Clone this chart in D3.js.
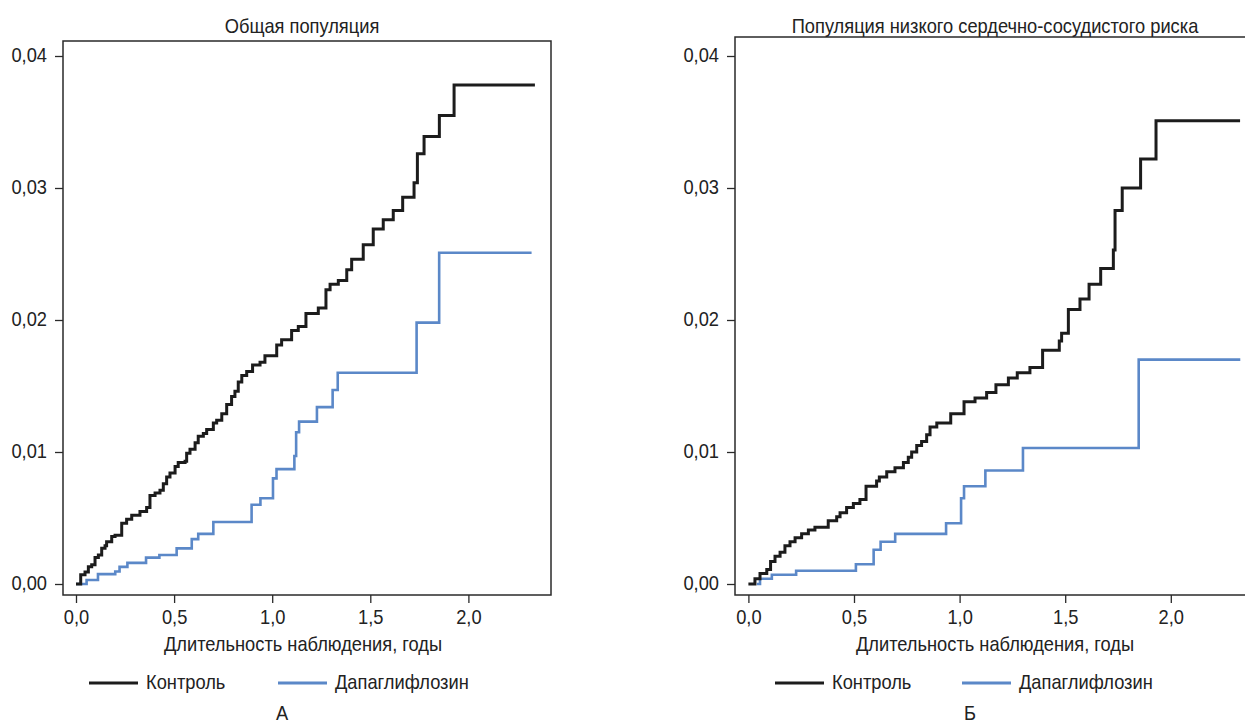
<!DOCTYPE html>
<html>
<head>
<meta charset="utf-8">
<script src="https://cdn.jsdelivr.net/npm/d3@7"></script>
<style>
  body { margin: 0; background: #fff; }
  svg text { font-family: "Liberation Sans", Arial, sans-serif; fill: #222; }
</style>
</head>
<body>
<svg id="chart" width="1245" height="726"></svg>
<script>
// cumulative incidence, [years, value] after each step
const leftControl = [[0,0],[0.024,0.0007],[0.046,0.0009],[0.063,0.0013],[0.080,0.00145],[0.097,0.002],[0.114,0.0022],[0.131,0.0027],[0.148,0.0029],[0.156,0.0032],[0.182,0.0036],[0.199,0.0037],[0.233,0.0046],[0.258,0.0049],[0.284,0.0052],[0.326,0.0055],[0.36,0.0058],[0.377,0.0067],[0.403,0.0069],[0.428,0.0071],[0.445,0.0076],[0.462,0.0081],[0.479,0.0084],[0.505,0.0089],[0.521,0.0092],[0.556,0.0093],[0.564,0.0099],[0.581,0.0102],[0.607,0.0107],[0.623,0.0112],[0.649,0.0114],[0.666,0.0117],[0.7,0.0122],[0.717,0.0124],[0.743,0.0129],[0.768,0.0136],[0.793,0.0142],[0.81,0.0146],[0.827,0.0153],[0.845,0.0158],[0.87,0.0161],[0.9,0.0166],[0.938,0.0168],[0.963,0.0173],[1.023,0.0181],[1.048,0.0185],[1.099,0.0192],[1.133,0.0195],[1.172,0.0205],[1.235,0.0209],[1.274,0.0223],[1.295,0.0227],[1.337,0.023],[1.38,0.0238],[1.405,0.0246],[1.464,0.0257],[1.515,0.0269],[1.566,0.0276],[1.617,0.0283],[1.665,0.0293],[1.723,0.0304],[1.74,0.0326],[1.774,0.0339],[1.852,0.0355],[1.927,0.0378],[2.339,0.0378]];
const leftDapa = [[0,0],[0.054,0.0003],[0.112,0.00075],[0.2,0.00095],[0.222,0.0013],[0.262,0.0016],[0.357,0.002],[0.425,0.0022],[0.513,0.0027],[0.59,0.0034],[0.623,0.0038],[0.70,0.0047],[0.895,0.006],[0.94,0.0065],[1.004,0.008],[1.022,0.0087],[1.113,0.0097],[1.122,0.0115],[1.137,0.0123],[1.228,0.0134],[1.308,0.0147],[1.334,0.016],[1.736,0.0198],[1.851,0.0251],[2.322,0.0251]];
const rightControl = [[0,0],[0.031,0.0004],[0.055,0.0008],[0.087,0.0011],[0.105,0.0017],[0.126,0.0021],[0.15,0.0024],[0.173,0.0029],[0.197,0.0032],[0.221,0.0035],[0.252,0.0038],[0.284,0.0041],[0.315,0.0043],[0.378,0.0048],[0.418,0.0051],[0.434,0.0054],[0.465,0.0058],[0.497,0.0061],[0.528,0.0064],[0.557,0.0074],[0.607,0.0078],[0.62,0.0081],[0.655,0.0085],[0.694,0.0088],[0.734,0.0092],[0.757,0.0096],[0.773,0.01],[0.797,0.0105],[0.82,0.0108],[0.844,0.0113],[0.86,0.0119],[0.892,0.0122],[0.958,0.0129],[1.021,0.0138],[1.073,0.0141],[1.128,0.0145],[1.172,0.0151],[1.231,0.0156],[1.273,0.016],[1.333,0.0164],[1.393,0.0177],[1.472,0.0184],[1.483,0.019],[1.515,0.0208],[1.57,0.0216],[1.613,0.0227],[1.668,0.0239],[1.728,0.0253],[1.736,0.0283],[1.77,0.03],[1.857,0.0322],[1.93,0.0351],[2.328,0.0351]];
const rightDapa = [[0.04,0],[0.055,0.0004],[0.111,0.0007],[0.226,0.001],[0.509,0.0015],[0.593,0.0026],[0.626,0.0032],[0.695,0.0038],[0.936,0.0046],[1.007,0.0065],[1.021,0.0074],[1.122,0.0086],[1.3,0.0103],[1.848,0.017],[2.329,0.017]];

const xTicks = [0, 0.5, 1.0, 1.5, 2.0];
const yTicks = [0, 0.01, 0.02, 0.03, 0.04];
const seriesNames = ["Контроль", "Дапаглифлозин"];
const seriesColors = ["#1c1c1c", "#5b88c8"];
const panelTitles = ["Общая популяция", "Популяция низкого сердечно-сосудистого риска"];
const panelLetters = ["А", "Б"];
const xTitle = "Длительность наблюдения, годы";

const ru = d3.formatLocale({decimal: ",", thousands: " ", grouping: [3], currency: ["", ""]});
const fmtX = ru.format(".1f"), fmtY = ru.format(".2f");

// the original uses a condensed sans; squeeze Liberation Sans horizontally
const SQ = 0.87;
const FS = 21;

const svg = d3.select("#chart");

function label(g, x, y, txt, anchor, baseline) {
  return g.append("text")
    .attr("transform", `translate(${x},${y}) scale(${SQ},1)`)
    .attr("text-anchor", anchor || "start")
    .attr("dominant-baseline", baseline || "middle")
    .style("font-size", FS + "px")
    .text(txt);
}

// layout of the two panels (px)
const panels = [
  {left: 63, right: 551, top: 41, x0: 76, x2: 468.4, title: panelTitles[0], letter: panelLetters[0],
   titleX: 302, axisTitleX: 303, letterX: 282, series: [leftControl, leftDapa], legendX: [89, 278]},
  {left: 735, right: 1262, top: 37, x0: 748.4, x2: 1170.8, title: panelTitles[1], letter: panelLetters[1],
   titleX: 995, axisTitleX: 995, letterX: 970, series: [rightControl, rightDapa], legendX: [775, 962]}
];
const bottom = 595;

panels.forEach(p => {
  const x = d3.scaleLinear().domain([0, 2]).range([p.x0, p.x2]);
  const y = d3.scaleLinear().domain([0, 0.04]).range([584, 56]);
  const g = svg.append("g");

  g.append("rect")
    .attr("x", p.left).attr("y", p.top)
    .attr("width", p.right - p.left).attr("height", bottom - p.top)
    .attr("fill", "none").attr("stroke", "#2a2a2a").attr("stroke-width", 1.5);

  const xAxis = g.append("g")
    .attr("transform", `translate(0,${bottom})`)
    .call(d3.axisBottom(x).tickValues(xTicks).tickFormat(fmtX).tickSize(8).tickPadding(4));
  xAxis.select(".domain").remove();
  xAxis.selectAll("line").attr("stroke", "#2a2a2a").attr("stroke-width", 1.3);
  xAxis.selectAll("text")
    .attr("y", 23).attr("dy", null).attr("dominant-baseline", "middle")
    .attr("transform", `scale(${SQ},1)`)
    .style("font-size", FS + "px").attr("fill", "#222");

  const yAxis = g.append("g")
    .attr("transform", `translate(${p.left},0)`)
    .call(d3.axisLeft(y).tickValues(yTicks).tickFormat(fmtY).tickSize(8).tickPadding(5));
  yAxis.select(".domain").remove();
  yAxis.selectAll("line").attr("stroke", "#2a2a2a").attr("stroke-width", 1.3);
  yAxis.selectAll("text")
    .attr("x", -16 / SQ).attr("dy", null).attr("dominant-baseline", "middle")
    .attr("transform", `scale(${SQ},1)`)
    .style("font-size", FS + "px").attr("fill", "#222");

  const line = d3.line()
    .curve(d3.curveStepAfter)
    .x(d => x(d[0]))
    .y(d => y(d[1]));

  // blue drawn first, black on top
  [1, 0].forEach(i => {
    g.append("path")
      .datum(p.series[i])
      .attr("d", line)
      .attr("fill", "none")
      .attr("stroke", seriesColors[i])
      .attr("stroke-width", i === 0 ? 3 : 2.6);
  });

  label(g, p.titleX, 27, p.title, "middle");
  label(g, p.axisTitleX, 645, xTitle, "middle");

  seriesNames.forEach((name, i) => {
    const lx = p.legendX[i];
    g.append("line")
      .attr("x1", lx).attr("x2", lx + 49).attr("y1", 683).attr("y2", 683)
      .attr("stroke", seriesColors[i]).attr("stroke-width", 3);
    label(g, lx + 57, 683, name);
  });

  label(g, p.letterX, 720, p.letter, "middle", "alphabetic");
});
</script>
</body>
</html>
